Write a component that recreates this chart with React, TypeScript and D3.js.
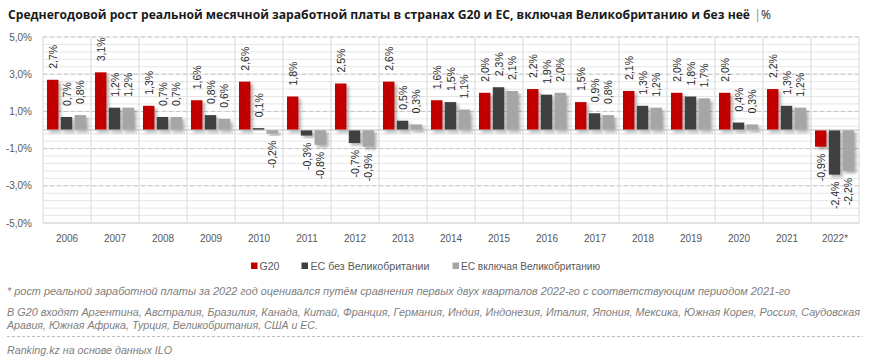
import React from "react";
import * as d3 from "d3";

const years = ["2006","2007","2008","2009","2010","2011","2012","2013","2014","2015","2016","2017","2018","2019","2020","2021","2022*"];
const seriesNames = ["G20", "ЕС без Великобритании", "ЕС включая Великобританию"];
const g20 = [2.7,3.1,1.3,1.6,2.6,1.8,2.5,2.6,1.6,2.0,2.2,1.5,2.1,2.0,2.0,2.2,-0.9];
const euNoUk = [0.7,1.2,0.7,0.8,0.1,-0.3,-0.7,0.5,1.5,2.3,1.9,0.9,1.3,1.8,0.4,1.3,-2.4];
const euUk = [0.8,1.2,0.7,0.6,-0.2,-0.8,-0.9,0.3,1.1,2.1,2.0,0.8,1.2,1.7,0.3,1.2,-2.2];
const yTicks = [5,3,1,-1,-3,-5];
const colors = ["#c00000", "#404040", "#a6a6a6"];

const title = "Среднегодовой рост реальной месячной заработной платы в странах G20 и ЕС, включая Великобританию и без неё";
const note1 = "* рост реальной заработной платы за 2022 год оценивался путём сравнения первых двух кварталов 2022-го с соответствующим периодом 2021-го";
const note2a = "В G20 входят Аргентина, Австралия, Бразилия, Канада, Китай, Франция, Германия, Индия, Индонезия, Италия, Япония, Мексика, Южная Корея, Россия, Саудовская";
const note2b = "Аравия, Южная Африка, Турция, Великобритания, США и ЕС.";
const source = "Ranking.kz на основе данных ILO";

const fmt = (v: number) => d3.format(".1f")(v).replace(".", ",").replace("−", "-") + "%";

export default function App() {
  const W = 872, H = 358;
  const left = 43, right = 859, top = 37, bottom = 223;
  const x = d3.scaleBand<string>().domain(years).range([left, right]).padding(0);
  const x1 = d3.scaleBand<number>().domain([0, 1, 2]).range([4, 43]).paddingInner(0.17).paddingOuter(0);
  const y = d3.scaleLinear().domain([-5, 5]).range([bottom, top]);
  const minor = d3.range(-5, 5.001, 0.4);
  const series = [g20, euNoUk, euUk];
  const font = "'Liberation Sans', Arial, sans-serif";

  const bars: React.ReactNode[] = [];
  const labels: React.ReactNode[] = [];
  years.forEach((yr, i) => {
    series.forEach((s, k) => {
      const v = s[i];
      const bx = (x(yr) as number) + (x1(k) as number);
      const bw = x1.bandwidth();
      const y0 = y(0), yv = y(v);
      bars.push(
        <rect key={`b${i}-${k}`} x={bx} y={Math.min(y0, yv)} width={bw} height={Math.abs(yv - y0)} fill={colors[k]} filter="url(#sh)" />
      );
      const cx = bx + bw / 2;
      if (v >= 0) {
        labels.push(
          <text key={`l${i}-${k}`} transform={`translate(${cx},${yv - 11}) rotate(-90)`} textAnchor="start" dominantBaseline="central" fontSize={10.5} fill="#262626" fontFamily={font}>{fmt(v)}</text>
        );
      } else {
        labels.push(
          <text key={`l${i}-${k}`} transform={`translate(${cx},${yv + 7}) rotate(-90)`} textAnchor="end" dominantBaseline="central" fontSize={10.5} fill="#262626" fontFamily={font}>{fmt(v)}</text>
        );
      }
    });
  });

  const legendItems = [
    { x: 251, tx: 259.5, w: 20 },
    { x: 301.5, tx: 310.5, w: 119 },
    { x: 452.5, tx: 461, w: 139 },
  ];

  return (
    <svg width={W} height={H} style={{ position: "absolute", left: 0, top: 0, background: "#fff" }}>
      <defs>
        <filter id="sh" x="-30%" y="-30%" width="180%" height="180%">
          <feDropShadow dx="2.5" dy="2.5" stdDeviation="1.8" floodColor="#000" floodOpacity="0.3" />
        </filter>
      </defs>
      <rect x={0} y={0} width={W} height={H} fill="#fff" />
      <text x={8} y={18.5} fontFamily="'Open Sans', sans-serif" fontWeight={700} fontSize={12} fill="#1a1a1a" textLength={742} lengthAdjust="spacingAndGlyphs">{title}</text>
      <text x={754} y={18.5} fontFamily="'Open Sans', sans-serif" fontSize={13} fill="#8c8c8c">|</text>
      <text x={761} y={18.5} fontFamily="'Open Sans', sans-serif" fontSize={12} fill="#1a1a1a">%</text>

      {minor.map((v, i) => (
        <line key={`m${i}`} x1={left} x2={right} y1={y(v)} y2={y(v)} stroke="#e6e6e6" strokeWidth={1} />
      ))}
      {yTicks.filter(v => v !== -5).map(v => (
        <line key={`M${v}`} x1={left} x2={right} y1={y(v)} y2={y(v)} stroke="#c6c6c6" strokeWidth={1} strokeDasharray="4,3" />
      ))}
      <line x1={left} x2={right} y1={y(-5)} y2={y(-5)} stroke="#d0d0d0" strokeWidth={1} />
      {years.map(yr => (
        <line key={`v${yr}`} x1={x(yr)} x2={x(yr)} y1={top} y2={bottom} stroke="#d9d9d9" strokeWidth={1} />
      ))}
      <line x1={right} x2={right} y1={top} y2={bottom} stroke="#d9d9d9" strokeWidth={1} />

      {yTicks.map(v => (
        <text key={`t${v}`} x={32} y={y(v)} textAnchor="end" dominantBaseline="central" fontSize={10} fill="#595959" fontFamily={font}>{fmt(v)}</text>
      ))}
      {years.map(yr => (
        <text key={`y${yr}`} x={(x(yr) as number) + x.bandwidth() / 2} y={238} textAnchor="middle" dominantBaseline="central" fontSize={10} fill="#595959" fontFamily={font}>{yr}</text>
      ))}

      {bars}
      <line x1={left} x2={right} y1={y(0)} y2={y(0)} stroke="#bfbfbf" strokeWidth={1} />
      {labels}

      {seriesNames.map((n, k) => (
        <g key={`lg${k}`}>
          <rect x={legendItems[k].x} y={262.5} width={6.5} height={6.5} fill={colors[k]} />
          <text x={legendItems[k].tx} y={266} dominantBaseline="central" fontSize={10} fill="#595959" fontFamily={font} textLength={legendItems[k].w} lengthAdjust="spacingAndGlyphs">{n}</text>
        </g>
      ))}

      <g fontFamily="'Liberation Sans', sans-serif" fontStyle="italic" fontSize={10} fill="#808080">
        <text x={7} y={295} textLength={783} lengthAdjust="spacingAndGlyphs">{note1}</text>
        <text x={7} y={315.5} textLength={853} lengthAdjust="spacingAndGlyphs">{note2a}</text>
        <text x={7} y={329} textLength={311} lengthAdjust="spacingAndGlyphs">{note2b}</text>
        <text x={7} y={354} textLength={165} lengthAdjust="spacingAndGlyphs">{source}</text>
      </g>
      <line x1={7} x2={863} y1={336.5} y2={336.5} stroke="#bfbfbf" strokeWidth={1} strokeDasharray="3,2" />
    </svg>
  );
}
